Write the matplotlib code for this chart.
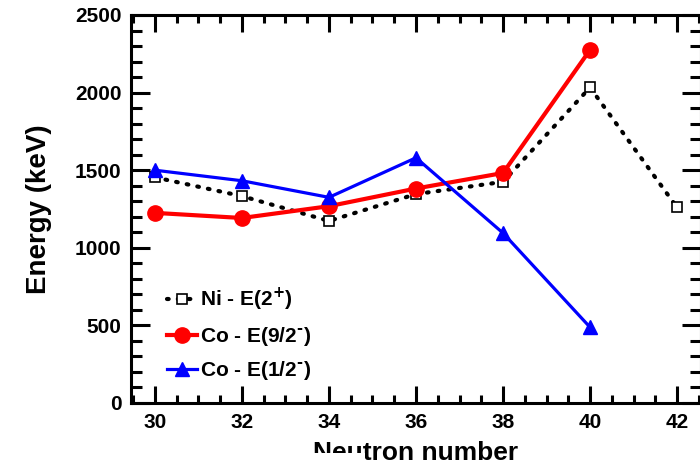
import matplotlib
matplotlib.use("Agg")
import matplotlib.pyplot as plt
from matplotlib.patches import Rectangle
from matplotlib.ticker import MultipleLocator

plt.rcParams['font.family'] = ['Liberation Sans', 'DejaVu Sans']
plt.rcParams['font.weight'] = 'bold'
plt.rcParams['mathtext.default'] = 'bf'

# data
n_ni = [30, 32, 34, 36, 38, 40, 42]
e_ni = [1454, 1333, 1173, 1346, 1425, 2033, 1260]
n_co = [30, 32, 34, 36, 38, 40]
e_co92 = [1225, 1192, 1268, 1382, 1482, 2275]
e_co12 = [1500, 1432, 1325, 1580, 1095, 488]
labels = [r'Ni - E(2$^{+}$)', r'Co - E(9/2$^{\text{-}}$)', r'Co - E(1/2$^{\text{-}}$)']

fig = plt.figure(figsize=(7, 4.67), dpi=100)
ax = fig.add_axes([131/700, 64/467, 570/700, 388/467])

ax.plot(n_ni, e_ni, color='black', lw=3, linestyle=(0, (0.4, 2.2)),
        dash_capstyle='round', marker='s', ms=7, mfc='white', mec='black',
        mew=1.2, label=labels[0])
ax.plot(n_co, e_co92, color='red', lw=3, marker='o', ms=11, label=labels[1])
ax.plot(n_co, e_co12, color='blue', lw=2.3, marker='^', ms=10, label=labels[2])

ax.set_xlim(29.45, 42.55)
ax.set_ylim(0, 2500)
ax.xaxis.set_major_locator(MultipleLocator(2))
ax.xaxis.set_minor_locator(MultipleLocator(0.5))
ax.yaxis.set_major_locator(MultipleLocator(500))
ax.yaxis.set_minor_locator(MultipleLocator(100))
ax.tick_params(which='both', direction='in', top=True, right=True, width=2.2)
ax.tick_params(which='major', length=12, labelsize=15, pad=7)
ax.tick_params(which='minor', length=6)
ax.tick_params(axis='y', which='major', length=14)
ax.tick_params(axis='y', which='minor', length=8)
for s in ax.spines.values():
    s.set_linewidth(2.2)
for t in ax.get_xticklabels() + ax.get_yticklabels():
    t.set_fontweight('bold')

ax.set_ylabel('Energy (keV)', fontsize=20, fontweight='bold', labelpad=16)
fig.text(416/700, 2/467, 'Neutron number', fontsize=19, fontweight='bold',
         ha='center', va='bottom')
# white strip hiding the bottom of the title on the left
fig.patches.append(Rectangle((0, 0), 365/700, 14/467, transform=fig.transFigure,
                             facecolor='white', edgecolor='none', zorder=10))

leg = ax.legend(loc='lower left', bbox_to_anchor=(0.03, 0.005), frameon=False,
                fontsize=15, handlelength=1.45, numpoints=1,
                labelspacing=0.55, handletextpad=0.15)
for t in leg.get_texts():
    t.set_fontweight('bold')

fig.savefig('out.png', dpi=100)
